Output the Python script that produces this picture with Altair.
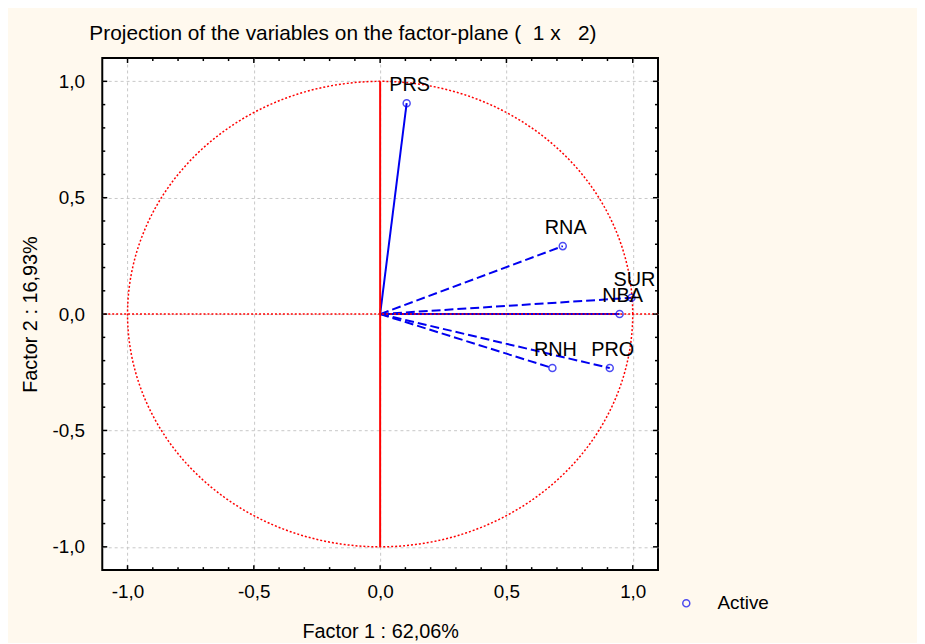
import altair as alt
import pandas as pd

# ---- data ----
names = ["PRS", "RNA", "SUR", "NBA", "RNH", "PRO"]
factor1 = [0.105, 0.723, 0.995, 0.948, 0.682, 0.909]
factor2 = [0.906, 0.292, 0.070, 0.000, -0.232, -0.232]
line_style = ["solid", "dashed", "dashed", "solid", "dashed", "dashed"]
status = ["Active"] * 6

major_ticks = [-1.0, -0.5, 0.0, 0.5, 1.0]
minor_ticks = [-0.9, -0.8, -0.7, -0.6, -0.4, -0.3, -0.2, -0.1,
               0.1, 0.2, 0.3, 0.4, 0.6, 0.7, 0.8, 0.9]

W, H = 560, 516
FONT = "Liberation Sans"

vec = pd.DataFrame({"name": names, "f1": factor1, "f2": factor2,
                    "style": line_style, "status": status,
                    "x0": [0.0] * 6, "y0": [0.0] * 6})

xs = alt.Scale(domain=[-1.1, 1.1], nice=False, zero=False)
ys = alt.Scale(domain=[-1.1, 1.1], nice=False, zero=False)
label_expr = "replace(replace(format(datum.value, '.1f'), '.', ','), '\u2212', '-')"
x_axis = alt.Axis(values=major_ticks, labelExpr=label_expr, title="Factor 1 : 62,06%",
                  ticks=False, domain=False, labelPadding=13, titlePadding=20,
                  labelFontSize=19, titleFontSize=20, labelFont=FONT, titleFont=FONT,
                  labelColor="black", titleColor="black", titleFontWeight="normal",
                  grid=True, gridColor="#C8C8C8", gridDash=[3, 3], gridWidth=1)
y_axis = alt.Axis(values=major_ticks, labelExpr=label_expr, title="Factor 2 : 16,93%",
                  ticks=False, domain=False, labelPadding=18, titlePadding=12,
                  labelFontSize=19, titleFontSize=20, labelFont=FONT, titleFont=FONT,
                  labelColor="black", titleColor="black", titleFontWeight="normal",
                  grid=True, gridColor="#C8C8C8", gridDash=[3, 3], gridWidth=1)

X = lambda f: alt.X(f, scale=xs, axis=x_axis)
Y = lambda f: alt.Y(f, scale=ys, axis=y_axis)

vectors = alt.Chart(vec).mark_rule(color="#0000F0", strokeWidth=2).encode(
    x=X("x0:Q"), y=Y("y0:Q"), x2="f1:Q", y2="f2:Q",
    strokeDash=alt.StrokeDash("style:N", scale=alt.Scale(domain=["solid", "dashed"],
                                                          range=[[1, 0], [9, 4]]), legend=None),
)

hline = alt.Chart(pd.DataFrame({"v": [0.0]})).mark_rule(
    color="red", strokeWidth=1.5, strokeDash=[2, 2]).encode(y=Y("v:Q"))
vline = alt.Chart(pd.DataFrame({"v": [0.0], "lo": [-1.0], "hi": [1.0]})).mark_rule(
    color="red", strokeWidth=2).encode(x=X("v:Q"), y=Y("lo:Q"), y2="hi:Q")

circle = alt.Chart(alt.sequence(0, 361, 1, as_="deg")).transform_calculate(
    cx="cos(datum.deg * PI / 180)", cy="sin(datum.deg * PI / 180)"
).mark_line(color="red", strokeWidth=1.5, strokeDash=[2, 2]).encode(
    x=X("cx:Q"), y=Y("cy:Q"), order="deg:Q")

points = alt.Chart(vec).mark_point(shape="circle", filled=False, size=50, strokeWidth=1.5).encode(
    x=X("f1:Q"), y=Y("f2:Q"),
    color=alt.Color("status:N", scale=alt.Scale(range=["#0000F0"]),
                    legend=alt.Legend(title=None, orient="none", legendX=579, legendY=540,
                                      labelFontSize=19, labelFont=FONT, labelColor="black",
                                      symbolSize=50, symbolStrokeWidth=1.5, symbolType="circle",
                                      symbolFillColor="transparent", labelOffset=22, padding=0)),
)

labels = alt.Chart(vec).mark_text(dy=-18, dx=3, fontSize=20, font=FONT, color="black").encode(
    x=X("f1:Q"), y=Y("f2:Q"), text="name:N")

# inward frame ticks
def side_ticks(values, length):
    d = pd.DataFrame({"t": values})
    base = alt.Chart(d).mark_rule(color="black", strokeWidth=1.5)
    return [
        base.encode(x=X("t:Q"), y=alt.value(H), y2=alt.value(H - length)),
        base.encode(x=X("t:Q"), y=alt.value(0), y2=alt.value(length)),
        base.encode(y=Y("t:Q"), x=alt.value(0), x2=alt.value(length)),
        base.encode(y=Y("t:Q"), x=alt.value(W), x2=alt.value(W - length)),
    ]

ticks = side_ticks(major_ticks, 5) + side_ticks(minor_ticks, 3)

chart = alt.layer(vectors, hline, vline, circle, points, labels, *ticks).properties(
    width=W, height=H,
    title=alt.TitleParams("Projection of the variables on the factor-plane (\u00a0 1 x \u00a0 2)",
                          anchor="start", frame="group", dx=-13, offset=13, fontSize=21,
                          font=FONT, fontWeight="normal", color="black"),
    padding={"left": 95, "top": 48, "right": 261, "bottom": 71},
    autosize=alt.AutoSizeParams(type="none"),
    background="#FFF9EE",
).configure_view(stroke="black", strokeWidth=2, fill="white")

chart.save("out.html", embed_options={"renderer": "svg", "actions": False})
